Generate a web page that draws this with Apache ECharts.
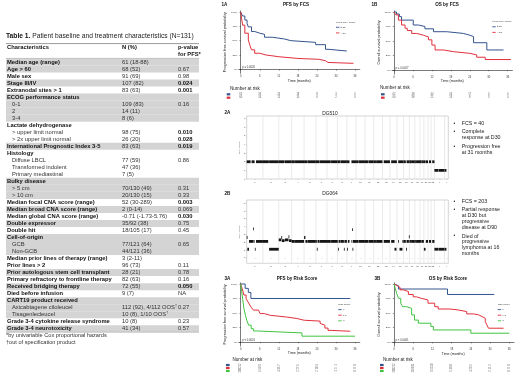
<!DOCTYPE html>
<html><head><meta charset="utf-8">
<script src="https://cdn.jsdelivr.net/npm/echarts@6/dist/echarts.min.js"></script>
<style>html,body{margin:0;padding:0;background:#fff}#c{width:520px;height:380px}</style>
</head><body><div id="c"></div>
<script>
// ================= DATA =================
// ---- Table 1 ----
const tableTitleBold = 'Table 1.';
const tableTitleRest = ' Patient baseline and treatment characteristics (N=131)';
const tableHeaders = ['Characteristics', 'N (%)', 'p-value\nfor PFS*'];
const rowLabels = ['Median age (range)','Age > 60','Male sex','Stage III/IV','Extranodal sites > 1','ECOG performance status','0-1','2','3-4','Lactate dehydrogenase','> upper limit normal','> 2x upper limit normal','International Prognostic Index 3-5','Histology','Diffuse LBCL','Transformed indolent','Primary mediastinal','Bulky disease','> 5 cm','> 10 cm','Median focal CNA score (range)','Median broad CNA score (range)','Median global CNA score (range)','Double expressor','Double hit','Cell-of-origin','GCB','Non-GCB','Median prior lines of therapy (range)','Prior lines > 2','Prior autologous stem cell transplant','Primary refractory to frontline therapy','Received bridging therapy','Died before infusion','CART19 product received','Axicabtagene ciloleucel','Tisagenlecleucel','Grade 3-4 cytokine release syndrome','Grade 3-4 neurotoxicity'];
const rowN = ['61 (18-88)','68 (52)','91 (69)','107 (82)','83 (63)','','109 (83)','14 (11)','8 (6)','','98 (75)','26 (20)','83 (63)','','77 (59)','47 (36)','7 (5)','','70/130 (49)','20/130 (15)','52 (30-289)','2 (0-14)','-0.71 (-1.73-5.76)','35/92 (38)','18/105 (17)','','77/121 (64)','44/121 (36)','3 (2-11)','96 (73)','28 (21)','82 (63)','72 (55)','9 (7)','','112 (92), 4/112 OOS†','10 (8), 1/10 OOS†','10 (8)','41 (34)'];
const rowP = ['','0.67','0.98','0.024','0.001','','0.16','','','','0.010','0.028','0.019','','0.86','','','','0.31','0.33','0.003','0.069','0.030','0.75','0.45','','0.65','','','0.11','0.78','0.16','0.050','NA','','0.27','','0.23','0.57'];
// main = new group, cont = same group (main style), sub = indented item of group
const rowKind = ['main','cont','main','main','main','main','sub','sub','sub','main','sub','sub','main','main','sub','sub','sub','main','sub','sub','main','main','main','main','main','main','sub','sub','main','cont','main','main','main','main','main','sub','sub','main','main'];
const footnotes = ['*by univariable Cox proportional hazards', '†out of specification product'];

// ---- Kaplan-Meier curves: [months, survival %] ----
const pfsFcsLow  = [[0,100],[0.6,93],[1.3,86],[2,80],[2.4,74],[3.4,66],[4.4,63],[6,61],[7.5,56],[10,53],[13.7,50],[15.8,47],[23.6,43],[26.7,35],[27.5,32],[33.4,32]];
const pfsFcsHigh = [[0,100],[0.3,88],[0.6,77],[1.3,63],[2.4,51],[2.9,42],[3.4,34],[4.4,28],[6,25],[8,22],[12,19],[18,17.5],[24.6,15],[26.7,12],[27.5,10.5],[35.5,10.5]];
const osFcsLow   = [[0,100],[0.8,96.5],[1.7,92],[2.4,86],[6.1,77.6],[7.7,75],[9.8,71],[12.5,66],[16.7,63],[22,60],[24,57.5],[25.2,47],[29.4,34.5],[34.7,34.5]];
const osFcsHigh  = [[0,100],[0.6,95],[1.4,86],[2.4,77.6],[3.5,72],[4.2,68],[5.6,63],[7.2,60],[9.3,57],[10.9,52],[12,43],[13,34.5],[15.7,31.6],[18.8,28.7],[24,26],[26.2,22],[28.9,18],[37,18]];
const pfsRisk0   = [[0,100],[1.4,92.5],[2.4,85.5],[3.2,75],[34.5,75]];
const pfsRisk12  = [[0,100],[0.6,89.6],[1,81],[1.7,75],[2.3,69],[2.9,63.6],[3.4,59],[4,55],[5.6,53],[6.1,49],[7.4,46],[9.3,44.5],[11.9,43],[14.5,40.5],[17.7,37.5],[20,36],[25,32],[25.5,29],[26.5,24],[27.5,20],[28.5,18.5],[34.5,18.5]];
const pfsRisk3   = [[0,100],[0.3,86.7],[0.6,75],[1,58],[1.5,46],[1.9,37.5],[2.5,29],[3.3,23],[4,19],[5,15.6],[19.3,10],[36,10]];
const osRisk0    = [[0,100],[0.6,97],[1.4,91.4],[16.7,82],[31.3,82]];
const osRisk12   = [[0,100],[0.4,97],[1,94],[1.9,90],[2.9,87],[4.5,82],[6,78],[7,75.4],[8.5,72.6],[10.6,67],[12.7,61],[13.8,57],[17.5,55.4],[20,52.6],[22.7,48.6],[24.8,47],[26.4,44],[27.5,41],[28.5,35.4],[29,29.7],[29.5,24],[34.2,24]];
const osRisk3     = [[0,100],[0.4,92.6],[0.8,84],[1.4,75.4],[2.1,67],[2.7,61],[4,58],[5.5,47],[6.4,38],[7.6,32.6],[11.5,27],[12.3,21],[24,15.4],[36,15.4]];

const kmTicksX = [0,6,12,18,24,30,36];
const kmTicksY = [0,25,50,75,100];
const riskTimes = [0,6,12,18,24,30,36];
const riskPfsFcs = { '≤ 52':[62,33,24,18,8,3,0], '> 52':[60,16,11,10,6,2,0] };
const riskOsFcs  = { '≤ 52':[62,48,40,26,17,4,0], '> 52':[60,38,21,13,8,3,0] };
const riskPfsRisk = { '0':[12,9,7,5,3,1,0], '1-2':[82,50,36,27,18,5,0], '3':[28,5,4,2,2,1,0] };
const riskOsRisk  = { '0':[12,11,10,8,6,2,0], '1-2':[82,68,55,40,29,8,0], '3':[28,16,9,6,4,2,0] };

// ---- Copy number profiles ----
const chrNames = ['1','2','3','4','5','6','7','8','9','10','11','12','13','14','15','16','17','18','19','20','21','22','X','Y'];
const chrLengths = [249,243,198,191,181,171,159,146,141,136,135,134,115,107,102,90,83,80,59,64,47,51,156,57];
const cnTicks = [0,1,2,3,4,5,6,7];
// [chromosome #, start Mb, end Mb, copy number]
const dg510Segments = [[1,0,60,2],[1,75,121,2],[1,143,249,2],[2,0,92,2],[2,95,243,2],[3,0,90,2],[3,94,198,2],[4,0,49,2],[4,52,191,2],[5,0,47,2],[5,50,181,2],[6,0,58,2],[6,62,171,2],[7,0,58,2],[7,62,159,2],[8,0,44,2],[8,47,146,2],[9,0,40,2],[9,70,141,2],[10,0,39,2],[10,42,136,2],[11,0,52,2],[11,55,135,2],[12,0,34,2],[12,37,134,2],[13,19,115,2],[14,19,107,2],[15,20,102,2],[16,0,35,2],[16,46,90,2],[17,0,24,2],[17,26,83,2],[18,0,16,2],[18,19,80,2],[19,0,25,2],[19,28,59,2],[20,0,26,2],[20,30,64,2],[21,14,47,2],[22,17,51,2],[23,0,58,1],[23,62,156,1],[24,3,28,1]];
const dg064Segments = [[1,0,10,2.6],[1,10,35,1.1],[1,35,100,2.1],[1,100,104,3.7],[1,104,121,2.1],[1,125,135,1.1],[1,143,249,2.1],[2,0,80,2.1],[2,95,243,1.1],[3,0,40,2.3],[3,40,48,2.6],[3,48,90,2.2],[3,95,150,2.3],[3,150,158,2.7],[3,158,198,2.2],[4,0,49,2.1],[4,52,191,2.1],[5,0,20,2.6],[5,20,47,2.1],[5,50,181,2.1],[6,0,15,2.1],[6,15,25,1.1],[6,25,58,2.1],[6,62,171,2.1],[7,0,58,2.1],[7,62,159,2.1],[8,0,12,2.1],[8,12,20,1.1],[8,20,44,2.1],[8,47,100,2.1],[8,100,108,1.1],[8,108,146,2.1],[9,5,15,1.1],[9,15,40,2.1],[9,70,80,2.1],[9,80,84,3.6],[9,86,92,1.1],[9,92,141,2.1],[10,0,39,2.1],[10,42,136,2.1],[11,0,52,2.1],[11,55,135,2.1],[12,0,34,2.1],[12,37,134,2.1],[13,19,115,2.1],[14,19,70,2.1],[14,70,100,1.1],[15,20,30,2.1],[15,40,85,1.1],[15,85,102,2.1],[16,0,35,2.1],[16,38,46,1.1],[16,46,82,2.1],[16,82,86,2.7],[17,0,24,2.1],[17,26,83,2.1],[18,0,16,2.1],[18,19,80,2.1],[19,0,25,2.1],[19,28,59,2.1],[20,0,26,1.1],[20,30,64,2.1],[21,14,47,2.1],[22,17,51,2.1],[23,0,58,1.1],[23,62,156,1.1],[24,3,28,1.1]];
const annot2A = ['FCS = 40', 'Complete\nresponse at D30', 'Progression free\nat 31 months'];
const annot2B = ['FCS = 203', 'Partial response\nat D30 but\nprogressive\ndisease at D90', 'Died of\nprogressive\nlymphoma at 16\nmonths'];

// ================= RENDER =================
const F = 'Liberation Sans, Arial, Helvetica, sans-serif';
const BLUE = '#34548e', RED = '#e1303b', GREEN = '#3fc53f';
const chart = echarts.init(document.getElementById('c'), null, {renderer: 'canvas'});

function txt(x, y, text, size, o) {
  return {type: 'text', x: x, y: y, silent: true, z: 10,
    style: Object.assign({text: text, fontSize: size, fontFamily: F, fill: '#111', align: 'left', verticalAlign: 'middle'}, o || {})};
}
function rect(x, y, w, h, fill) {
  return {type: 'rect', silent: true, z: 1, shape: {x: x, y: y, width: w, height: h}, style: {fill: fill}};
}
function hline(x1, x2, y, color, w) {
  return {type: 'line', silent: true, z: 5, shape: {x1: x1, y1: y, x2: x2, y2: y}, style: {stroke: color, lineWidth: w}};
}

const graphic = [];
// ---- Table ----
const TX0 = 6, TX1 = 199, LX = 7, SX = 12, NX = 122, PX = 178, R0 = 62, RH = 7.02, FS = 5.8;
graphic.push(txt(6, 35.7, '{b|' + tableTitleBold + '}{n|' + tableTitleRest + '}', 6.7, {
  rich: {b: {fontWeight: 'bold', fontSize: 6.7, fontFamily: F, fill: '#111'}, n: {fontSize: 6.7, fontFamily: F, fill: '#222'}}}));
graphic.push(hline(TX0, TX1, 43.6, '#555', 0.6));
graphic.push(txt(LX, 47, tableHeaders[0], FS, {fontWeight: 'bold'}));
graphic.push(txt(NX, 47, tableHeaders[1], FS, {fontWeight: 'bold'}));
graphic.push(txt(PX, 50.6, tableHeaders[2], FS, {fontWeight: 'bold', lineHeight: 7.2}));
graphic.push(hline(TX0, TX1, 58.4, '#888', 0.4));
let grp = -1;
rowLabels.forEach(function (lab, i) {
  if (rowKind[i] === 'main') grp++;
  const cy = R0 + i * RH;
  if (grp % 2 === 0) graphic.push(rect(TX0, cy - RH / 2, TX1 - TX0, RH, '#d4d4d4'));
  const sub = rowKind[i] === 'sub';
  graphic.push(txt(sub ? SX : LX, cy, lab, FS, {fontWeight: sub ? 'normal' : 'bold', fill: sub ? '#333' : '#111'}));
  const n = rowN[i];
  if (n.indexOf('†') >= 0) {
    graphic.push(txt(NX, cy, '{n|' + n.replace('†', '') + '}{s|†}', FS, {
      rich: {n: {fontSize: FS, fontFamily: F, fill: '#333'}, s: {fontSize: 3.6, fontFamily: F, fill: '#333', verticalAlign: 'top', padding: [0, 0, 3, 0]}}}));
  } else if (n) {
    graphic.push(txt(NX, cy, n, FS, {fill: '#333'}));
  }
  const p = rowP[i];
  if (p) {
    const sig = !isNaN(parseFloat(p)) && parseFloat(p) <= 0.05;
    graphic.push(txt(PX, cy, p, FS, {fontWeight: sig ? 'bold' : 'normal', fill: sig ? '#111' : '#333'}));
  }
});
graphic.push(hline(TX0, TX1, R0 + (rowLabels.length - 0.5) * RH, '#888', 0.4));
graphic.push(txt(6, 335.7, footnotes[0], 5.6, {fill: '#333'}));
graphic.push(txt(6, 342.4, footnotes[1], 5.6, {fill: '#333'}));

// ---- KM panels ----
const kmPanels = [
  {label: '1A', title: 'PFS by FCS', yname: 'Progression free survival probability', grid: {left: 238.8, top: 10.85, width: 121, height: 62.5},
   curves: [['≤ 52', pfsFcsLow, BLUE], ['> 52', pfsFcsHigh, RED]], risk: riskPfsFcs, legendTitle: 'Focal CNA Score', leg: [336, 22],
   p: 'p = 0.0026', riskGrid: {top: 92.6, height: 6.8}, riskHdr: [230, 88.3], bar: 226.7, vertical: false, labelPos: [221.5, 4.3], titleX: 296},
  {label: '1B', title: 'OS by FCS', yname: 'Overall survival probability', grid: {left: 392.1, top: 10.84, width: 120.3, height: 63.2},
   curves: [['≤ 52', osFcsLow, BLUE], ['> 52', osFcsHigh, RED]], risk: riskOsFcs, legendTitle: 'Focal CNA Score', leg: [492.3, 21.5],
   p: 'p = 0.0027', riskGrid: {top: 92.6, height: 6.8}, riskHdr: [380, 87.8], bar: 381, vertical: false, labelPos: [371.5, 4.3], titleX: 447},
  {label: '3A', title: 'PFS by Risk Score', yname: 'Progression free survival probability', grid: {left: 238.8, top: 282.84, width: 121, height: 63.2},
   curves: [['0', pfsRisk0, BLUE], ['1-2', pfsRisk12, RED], ['3', pfsRisk3, GREEN]], risk: riskPfsRisk, legendTitle: 'Risk Score', leg: [338.3, 304.3],
   p: 'p < 0.0001', riskGrid: {top: 363.5, height: 9}, riskHdr: [232.5, 359.3], bar: 226, vertical: true, labelPos: [224.5, 278.3], titleX: 297},
  {label: '3B', title: 'OS by Risk Score', yname: 'Overall survival probability', grid: {left: 392.1, top: 282.84, width: 122, height: 63.4},
   curves: [['0', osRisk0, BLUE], ['1-2', osRisk12, RED], ['3', osRisk3, GREEN]], risk: riskOsRisk, legendTitle: 'Risk Score', leg: [497.7, 304.3],
   p: 'p < 0.0001', riskGrid: {top: 363.5, height: 9}, riskHdr: [383, 359.3], bar: 380, vertical: true, labelPos: [374.5, 278.3], titleX: 448}
];

const grids = [], xAxes = [], yAxes = [], series = [];
kmPanels.forEach(function (pn) {
  const gi = grids.length;
  grids.push(pn.grid);
  xAxes.push({gridIndex: gi, type: 'value', min: -0.6, max: 37.5,
    axisLine: {lineStyle: {color: '#222', width: 0.6}},
    axisTick: {customValues: kmTicksX, length: 1.2, lineStyle: {color: '#222', width: 0.5}},
    axisLabel: {customValues: kmTicksX, fontSize: 2.7, margin: 1.3, color: '#333', fontFamily: F},
    splitLine: {show: false},
    name: 'Time (months)', nameLocation: 'middle', nameGap: 5.4, nameTextStyle: {fontSize: 3.6, color: '#222', fontFamily: F}});
  yAxes.push({gridIndex: gi, type: 'value', min: -7, max: 102,
    axisLine: {show: true, lineStyle: {color: '#222', width: 0.6}},
    axisTick: {show: true, customValues: kmTicksY, length: 1.2, lineStyle: {color: '#222', width: 0.5}},
    axisLabel: {customValues: kmTicksY, formatter: '{value}%', fontSize: 2.5, margin: 1.3, color: '#333', fontFamily: F},
    splitLine: {show: false},
    name: pn.yname, nameLocation: 'middle', nameRotate: 90, nameGap: 11.5, nameTextStyle: {fontSize: 3.8, color: '#222', fontFamily: F}});
  pn.curves.forEach(function (c) {
    series.push({type: 'line', name: c[0], xAxisIndex: gi, yAxisIndex: gi, step: 'end', data: c[1], showSymbol: false, silent: true,
      lineStyle: {color: c[2], width: 1}, itemStyle: {color: c[2]}});
  });
  // risk table
  const ri = grids.length;
  const names = pn.curves.map(function (c) { return c[0]; });
  grids.push({left: pn.grid.left, width: pn.grid.width, top: pn.riskGrid.top, height: pn.riskGrid.height});
  xAxes.push({gridIndex: ri, type: 'value', min: -0.6, max: 37.5, show: false});
  yAxes.push({gridIndex: ri, type: 'category', data: names, inverse: true, show: false});
  names.forEach(function (nm, k) {
    series.push({type: 'scatter', xAxisIndex: ri, yAxisIndex: ri, symbolSize: 1, silent: true, clip: false,
      itemStyle: {color: 'rgba(0,0,0,0)'},
      data: riskTimes.map(function (t, j) { return [t, k, pn.risk[nm][j]]; }),
      label: {show: true, position: 'inside', formatter: function (p) { return String(p.value[2]); },
        fontSize: 2.7, color: '#333', fontFamily: F, rotate: pn.vertical ? 90 : 0}});
    const rowH = pn.riskGrid.height / names.length;
    graphic.push(rect(pn.bar, pn.riskGrid.top + rowH * (k + 0.5) - 1.1, 3.6, 2.2, pn.curves[k][2]));
  });
  graphic.push(txt(pn.riskHdr[0], pn.riskHdr[1], 'Number at risk', 4.6, {fill: '#222'}));
  // labels, titles, legend, p value
  graphic.push(txt(pn.labelPos[0], pn.labelPos[1], pn.label, 4.6, {fontWeight: 'bold'}));
  graphic.push(txt(pn.titleX, pn.labelPos[1], pn.title, 4.6, {fontWeight: 'bold', align: 'center'}));
  graphic.push(txt(pn.leg[0], pn.leg[1], pn.legendTitle, 2.5, {fill: '#333'}));
  pn.curves.forEach(function (c, k) {
    const y = pn.leg[1] + 5.3 + k * 5.6;
    graphic.push({type: 'line', silent: true, z: 10, shape: {x1: pn.leg[0], y1: y, x2: pn.leg[0] + 3.4, y2: y}, style: {stroke: c[2], lineWidth: 0.9}});
    graphic.push(txt(pn.leg[0] + 4.6, y, c[0], 2.5, {fill: '#333'}));
  });
  graphic.push(txt(pn.grid.left + 3.5, pn.grid.top + pn.grid.height - 6, pn.p, 2.7, {fill: '#333'}));
});

// ---- Copy number panels ----
const chrOffsets = [];
chrLengths.reduce(function (acc, l) { chrOffsets.push(acc); return acc + l; }, 0);
const genomeLen = chrLengths.reduce(function (a, b) { return a + b; }, 0);
const chrCenters = chrOffsets.map(function (o, i) { return o + chrLengths[i] / 2; });
const chrBounds = chrOffsets.slice(1);
const cnPanels = [
  {label: '2A', name: 'DG510', segs: dg510Segments, grid: {left: 246.7, top: 116, width: 201.6, height: 63}, ymin: 0, ymax: 7.3, titleY: 113.2, labelY: 112.5, annot: annot2A, annotY: 123.3},
  {label: '2B', name: 'DG064', segs: dg064Segments, grid: {left: 246.7, top: 200, width: 201.6, height: 63.3}, ymin: -0.7, ymax: 7.4, titleY: 194, labelY: 194, annot: annot2B, annotY: 201.3}
];
cnPanels.forEach(function (pn) {
  const gi = grids.length;
  grids.push(Object.assign({show: true, borderColor: '#aaa', borderWidth: 0.5}, pn.grid));
  xAxes.push({gridIndex: gi, type: 'value', min: 0, max: genomeLen,
    axisLine: {show: false},
    axisTick: {show: true, customValues: chrCenters, length: 1, lineStyle: {color: '#999', width: 0.4}},
    axisLabel: {customValues: chrCenters, fontSize: 2.3, margin: 2, color: '#444', fontFamily: F,
      formatter: function (v) { let k = 0, best = 1e9; chrCenters.forEach(function (c, i) { if (Math.abs(c - v) < best) { best = Math.abs(c - v); k = i; } }); return chrNames[k]; }},
    splitLine: {show: false}});
  yAxes.push({gridIndex: gi, type: 'value', min: pn.ymin, max: pn.ymax,
    axisLine: {show: false},
    axisTick: {show: true, customValues: cnTicks, length: 1, lineStyle: {color: '#999', width: 0.4}},
    axisLabel: {customValues: cnTicks, fontSize: 2.3, margin: 1.5, color: '#444', fontFamily: F},
    splitLine: {show: false},
    name: 'Copy number', nameLocation: 'middle', nameRotate: 90, nameGap: 5.5, nameTextStyle: {fontSize: 2.2, color: '#555', fontFamily: F}});
  // chromosome boundary lines
  series.push({type: 'custom', xAxisIndex: gi, yAxisIndex: gi, silent: true, z: 1,
    data: chrBounds.map(function (b) { return [b]; }),
    renderItem: function (params, api) {
      const a = api.coord([api.value(0), pn.ymin]);
      const b = api.coord([api.value(0), pn.ymax]);
      return {type: 'line', shape: {x1: a[0], y1: a[1], x2: b[0], y2: b[1]}, style: {stroke: '#dcdcdc', lineWidth: 0.6}};
    }});
  // segments
  series.push({type: 'custom', xAxisIndex: gi, yAxisIndex: gi, silent: true, z: 3,
    data: pn.segs.map(function (s) { const o = chrOffsets[s[0] - 1]; return [o + s[1], o + s[2], s[3]]; }),
    encode: {x: [0, 1], y: 2},
    renderItem: function (params, api) {
      const a = api.coord([api.value(0), api.value(2)]);
      const b = api.coord([api.value(1), api.value(2)]);
      return {type: 'rect', shape: {x: a[0], y: a[1] - 1.4, width: Math.max(b[0] - a[0], 0.8), height: 2.8}, style: {fill: '#151515'}};
    }});
  graphic.push(txt(224.5, pn.labelY, pn.label, 4.6, {fontWeight: 'bold'}));
  graphic.push(txt(330, pn.titleY, pn.name, 4.9, {align: 'center', fill: '#222'}));
  let y = pn.annotY;
  pn.annot.forEach(function (a) {
    graphic.push(txt(453.5, y, '•', 5, {fill: '#222'}));
    a.split('\n').forEach(function (line) {
      graphic.push(txt(461.7, y, line, 5.3, {fill: '#222'}));
      y += 5.8;
    });
    y += 2.9;
  });
});

chart.setOption({
  animation: false,
  textStyle: {fontFamily: F},
  grid: grids, xAxis: xAxes, yAxis: yAxes, series: series, graphic: graphic
});
</script></body></html>
